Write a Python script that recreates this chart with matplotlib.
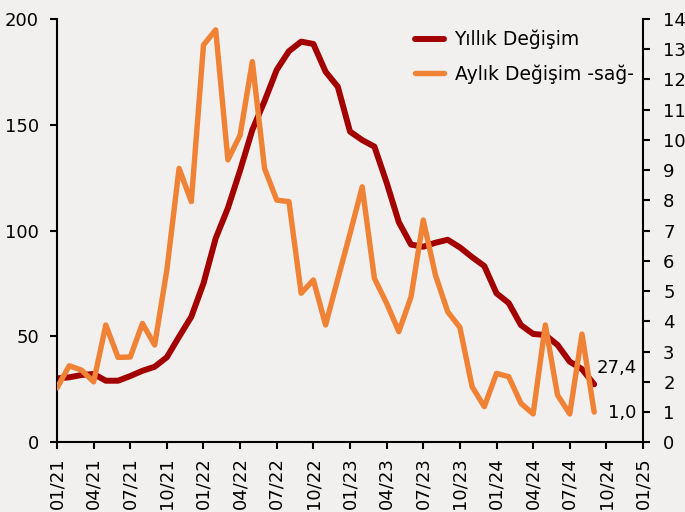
import numpy as np
import matplotlib.pyplot as plt

# aylar: 01/21 .. 09/24 (45 ay)
yillik = [30.2, 30.7, 31.8, 32.3, 29.1, 29.1, 31.3, 33.8, 35.7, 40.2,
          49.9, 59.3, 75.1, 96.4, 110.7, 128.5, 147.6, 161.2, 176.0, 184.8,
          189.3, 188.2, 175.1, 168.0, 146.8, 142.8, 139.7, 122.7, 104.0, 93.4,
          92.4, 94.3, 95.7, 92.1, 87.5, 83.3, 70.4, 65.8, 55.4, 51.2,
          50.7, 46.0, 38.1, 34.6, 27.4]
aylik = [1.80, 2.53, 2.39, 2.00, 3.88, 2.81, 2.82, 3.93, 3.22, 5.70,
         9.06, 7.96, 13.14, 13.64, 9.34, 10.16, 12.59, 9.06, 8.01, 7.96,
         4.93, 5.37, 3.88, 5.40, 6.90, 8.45, 5.42, 4.60, 3.66, 4.81,
         7.35, 5.53, 4.32, 3.80, 1.84, 1.18, 2.28, 2.17, 1.29, 0.94,
         3.88, 1.56, 0.94, 3.58, 1.00]
tick_labels = ['01/21', '04/21', '07/21', '10/21', '01/22', '04/22', '07/22',
               '10/22', '01/23', '04/23', '07/23', '10/23', '01/24', '04/24',
               '07/24', '10/24', '01/25']

bg = '#F2F0EE'
kirmizi = '#A30000'
turuncu = '#F08236'

plt.rcParams['font.family'] = ['DejaVu Sans']
plt.rcParams['font.size'] = 13

fig = plt.figure(figsize=(6.85, 5.12), dpi=100, facecolor=bg)
ax = fig.add_axes([0.0832, 0.1361, 0.8555, 0.8268])
ax.set_facecolor(bg)
ax2 = ax.twinx()

x = np.arange(len(yillik))
ax.plot(x, yillik, color=kirmizi, lw=4.3, solid_joinstyle='round',
        solid_capstyle='round', label='Yıllık Değişim')
ax2.plot(x, aylik, color=turuncu, lw=3.9, solid_joinstyle='round',
         solid_capstyle='round', label='Aylık Değişim -sağ-')

ax.set_xlim(0, 48)
ax.set_ylim(0, 200)
ax2.set_ylim(0, 14)
ax.set_yticks([0, 50, 100, 150, 200])
ax2.set_yticks(range(0, 15))
ax.set_xticks(np.arange(0, 49, 3))
ax.set_xticklabels(tick_labels, rotation=90)

for a in (ax, ax2):
    a.spines['top'].set_visible(False)
    for s in a.spines.values():
        s.set_linewidth(1.5)
ax.spines['right'].set_visible(False)
ax2.spines['left'].set_visible(False)
ax2.spines['bottom'].set_visible(False)

ax.tick_params(axis='y', direction='out', length=5, width=1.5, pad=8)
ax.tick_params(axis='x', direction='out', length=5, width=1.5, pad=6)
ax2.tick_params(axis='y', direction='out', length=5, width=1.5, pad=9.5)

# son değer etiketleri
ax.annotate(f'{yillik[-1]:.1f}'.replace('.', ','), xy=(x[-1], yillik[-1]),
            xytext=(2, 12), textcoords='offset points', ha='left', va='center')
ax2.annotate(f'{aylik[-1]:.1f}'.replace('.', ','), xy=(x[-1], aylik[-1]),
             xytext=(10, -1), textcoords='offset points', ha='left', va='center')

h1, l1 = ax.get_legend_handles_labels()
h2, l2 = ax2.get_legend_handles_labels()
ax2.legend(h1 + h2, l1 + l2, loc='upper right', bbox_to_anchor=(0.990, 0.983),
           borderaxespad=0, borderpad=0.2, frameon=False, fontsize=13.5,
           handlelength=1.55, handletextpad=0.55, labelspacing=0.8)

fig.savefig('out.png', dpi=100, facecolor=bg)
